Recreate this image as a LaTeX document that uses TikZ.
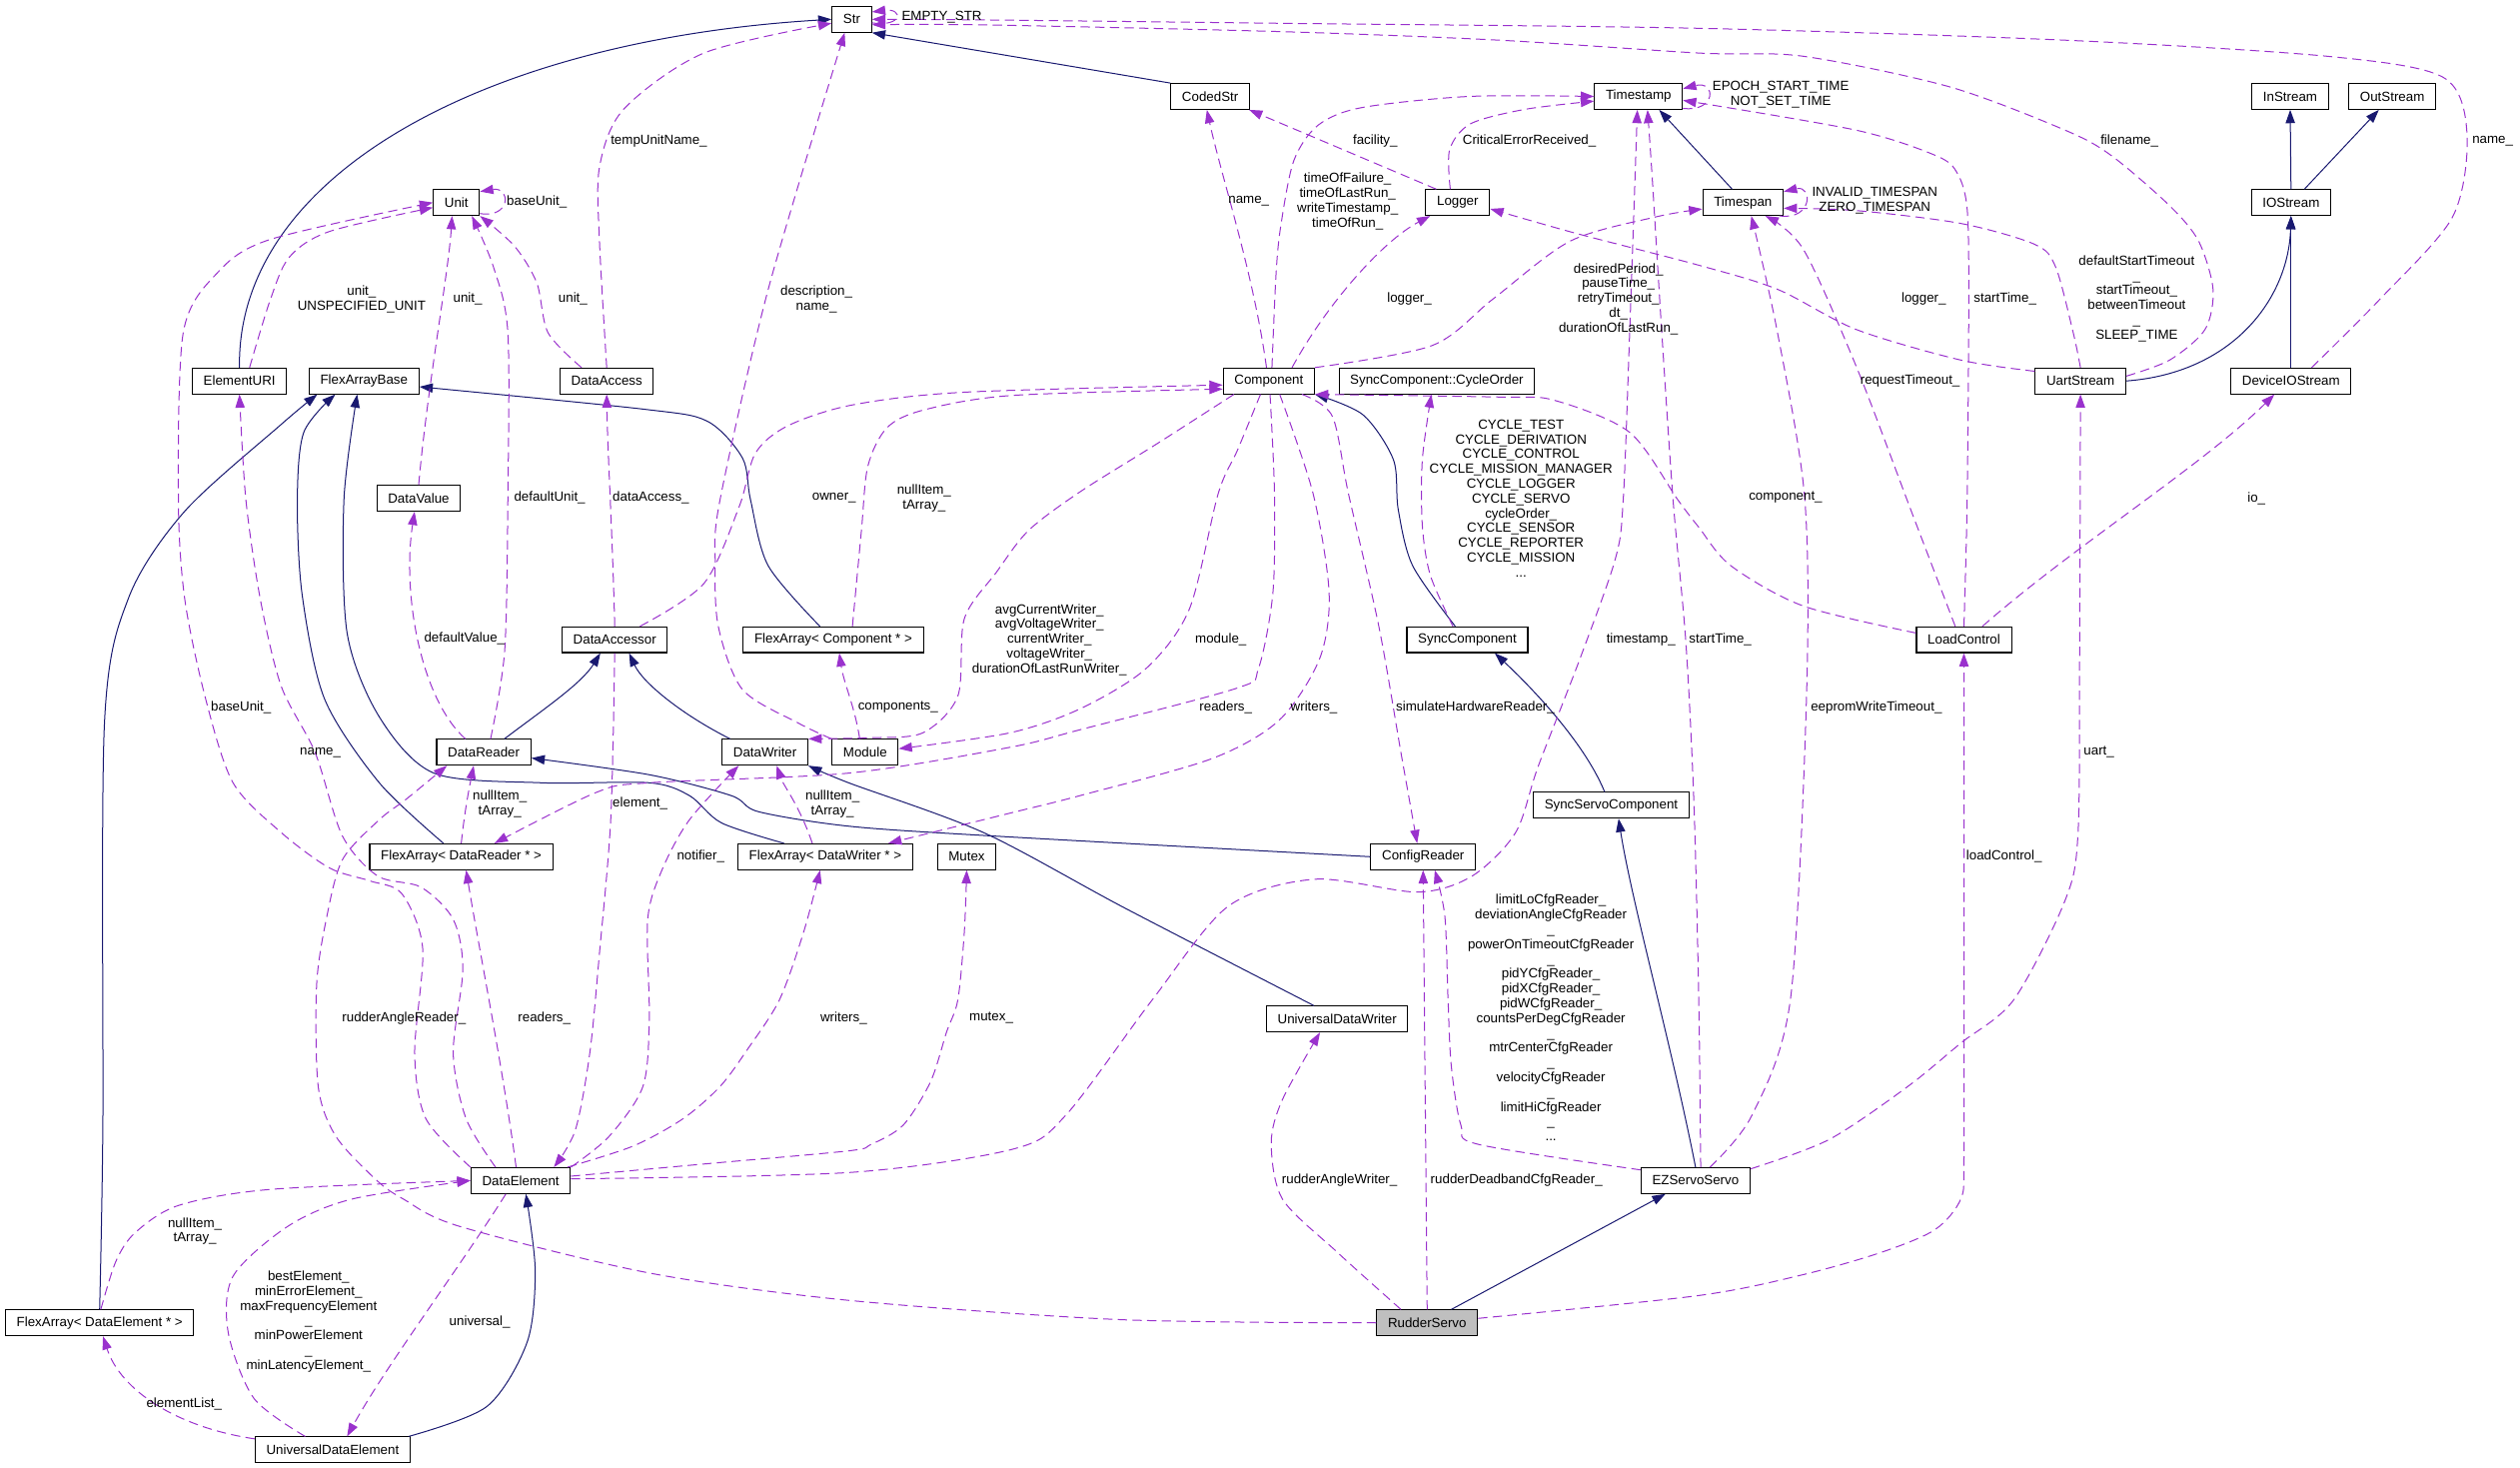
\documentclass[tikz,border=0pt]{standalone}
\usepackage{fontspec}
\setmainfont{Liberation Sans}
\usepackage{xcolor}
\usepackage{tikz}
\definecolor{inhcolor}{RGB}{25, 25, 112}
\definecolor{usecolor}{RGB}{154, 50, 205}
\usetikzlibrary{arrows.meta}

\begin{document}
\begin{tikzpicture}[
    x=1.2063pt, y=-1.2063pt,
    cls/.style={rectangle, draw, line width=0.8pt, fill=white, minimum height=19.3pt, inner xsep=8.4pt, inner ysep=0pt, font=\fontsize{10}{11.1}\selectfont},
    mainclass/.style={cls, fill=black!25},
    inherit/.style={draw=inhcolor, line width=0.75pt, -{Triangle[length=10pt, width=7pt]}},
    member/.style={draw=usecolor, line width=0.75pt, dash pattern=on 7pt off 4pt, -{Triangle[length=10pt, width=7pt]}},
    lbl/.style={font=\fontsize{10}{11.1}\selectfont, align=center, inner sep=0pt}
]
    \useasboundingbox (0,0) rectangle (1568,913);

    % Classes
    \node[cls] (str) at (530,12) {Str};
    \node[cls] (codedstr) at (753,60) {CodedStr};
    \node[cls] (timestamp) at (1019.5,60) {Timestamp};
    \node[cls] (instream) at (1425,60) {InStream};
    \node[cls] (outstream) at (1488.5,60) {OutStream};
    \node[cls] (unit) at (284,126) {Unit};
    \node[cls] (logger) at (907,126) {Logger};
    \node[cls] (timespan) at (1084.5,126) {Timespan};
    \node[cls] (iostream) at (1425.5,126) {IOStream};
    \node[cls] (elementuri) at (149,237) {ElementURI};
    \node[cls] (flexbase) at (226.5,237) {FlexArrayBase};
    \node[cls] (dataaccess) at (377.5,237) {DataAccess};
    \node[cls] (component) at (789.5,237) {Component};
    \node[cls] (cycleorder) at (894,237) {SyncComponent::CycleOrder};
    \node[cls] (uartstream) at (1294.5,237) {UartStream};
    \node[cls] (deviceio) at (1425.5,237) {DeviceIOStream};
    \node[cls] (datavalue) at (260.5,310) {DataValue};
    \node[cls] (dataaccessor) at (382.5,398) {DataAccessor};
    \node[cls] (flexcomp) at (518.5,398) {FlexArray< Component * >};
    \node[cls] (synccomp) at (913,398) {SyncComponent};
    \node[cls] (loadcontrol) at (1222,398) {LoadControl};
    \node[cls] (datareader) at (301,468) {DataReader};
    \node[cls] (datawriter) at (476,468) {DataWriter};
    \node[cls] (module) at (538.3,468) {Module};
    \node[cls] (flexreader) at (287,533) {FlexArray< DataReader * >};
    \node[cls] (flexwriter) at (513.5,533) {FlexArray< DataWriter * >};
    \node[cls] (mutex) at (601.5,533) {Mutex};
    \node[cls] (configreader) at (885.5,533) {ConfigReader};
    \node[cls] (syncservo) at (1002.5,501) {SyncServoComponent};
    \node[cls] (udwriter) at (832,634) {UniversalDataWriter};
    \node[cls] (dataelement) at (324,734.5) {DataElement};
    \node[cls] (ezservo) at (1055,734.5) {EZServoServo};
    \node[cls] (flexelement) at (62,823) {FlexArray< DataElement * >};
    \node[mainclass] (rudderservo) at (888,823) {RudderServo};
    \node[cls] (udelement) at (207,902) {UniversalDataElement};

    % Inheritance
    \draw[inherit] (elementuri.north) .. controls (147,110) and (300,25) .. (str.west);
    \draw[inherit] (codedstr.north west) -- (str.south east);
    \draw[inherit] (timespan.129) -- (timestamp.327);
    \draw[inherit] (iostream.north) -- (instream.south);
    \draw[inherit] (iostream.45) -- (outstream.225);
    \draw[inherit] (uartstream.east) .. controls (1390,232) and (1424,185) .. (iostream.south);
    \draw[inherit] (deviceio.north) -- (iostream.south);
    \draw[inherit] plot[smooth] coordinates {(flexcomp.135) (478,352) (467,311) (462,285) (440,262) (400,254.5) (flexbase.354)};
    \draw[inherit] plot[smooth] coordinates {(flexreader.143) (236,487) (202,435) (188,370) (185,311) (189,269) (flexbase.205)};
    \draw[inherit] plot[smooth] coordinates {(flexwriter.162) (449,512) (429,495) (404,487) (337,487) (270,481) (236,446) (216,394) (214,311) (flexbase.243)};
    \draw[inherit] plot[smooth] coordinates {(flexelement.north) (64,700) (65,450) (80,372) (115,318) (175,264) (flexbase.196)};
    \draw[inherit] (datareader.33) .. controls (340,440) and (362,425) .. (dataaccessor.223);
    \draw[inherit] (datawriter.159) .. controls (425,445) and (400,425) .. (dataaccessor.317);
    \draw[inherit] plot[smooth] coordinates {(configreader.west) (616,520) (528,514) (472,505) (455,495) (404,482) (datareader.353)};
    \draw[inherit] plot[smooth] coordinates {(udwriter.150) (700,565) (612,518) (528,487) (datawriter.south east)};
    \draw[inherit] plot[smooth] coordinates {(synccomp.132) (879,352) (870,317) (867,286) (848,258) (component.south east)};
    \draw[inherit] (syncservo.116) .. controls (985,460) and (950,425) .. (synccomp.334);
    \draw[inherit] (ezservo.north) .. controls (1040,650) and (1015,560) .. (syncservo.299);
    \draw[inherit] (rudderservo.29) -- (ezservo.204);
    \draw[inherit] plot[smooth] coordinates {(udelement.10) (303,875) (328,835) (333,790) (dataelement.291)};

    % Members
    \draw[member] (str.350) .. controls (562,17) and (562,5) .. (str.20);
    \draw[member] (timestamp.345) .. controls (1068,70) and (1068,50) .. (timestamp.10);
    \draw[member] (timespan.340) .. controls (1128,137) and (1128,115) .. (timespan.15);
    \draw[member] (unit.335) .. controls (318,136) and (318,116) .. (unit.25);
    \draw[member] plot[smooth] coordinates {(elementuri.53) (168,187) (180,160) (205,144) (unit.192)};
    \draw[member] plot[smooth] coordinates {(dataelement.north west) (265,696) (258,655) (263,590) (250,556) (230,548) (205,540) (175,518) (145,487) (128,435) (115,373) (111,311) (114,207) (135,170) (168,149) (unit.west)};
    \draw[member] plot[smooth] coordinates {(dataelement.152) (290,696) (282,655) (288,603) (282,572) (262,552) (235,545) (213,520) (196,468) (175,427) (162,373) (153,311) (elementuri.south)};
    \draw[member] (datavalue.north) .. controls (266,240) and (279,170) .. (unit.252);
    \draw[member] plot[smooth] coordinates {(datareader.63) (314,405) (316,311) (316,207) (307,166) (unit.319)};
    \draw[member] plot[smooth] coordinates {(dataaccess.152) (341,207) (334,176) (320,153) (unit.south east)};
    \draw[member] plot[smooth] coordinates {(dataaccess.north) (373,150) (373,104) (388,68) (438,33) (str.191)};
    \draw[member] (dataaccessor.north) .. controls (381,330) and (378,280) .. (dataaccess.south);
    \draw[member] plot[smooth] coordinates {(dataaccessor.28) (438,363) (460,315) (470,282) (490,265) (530,252) (600,244) (component.185)};
    \draw[member] (datareader.144) .. controls (262,435) and (250,370) .. (datavalue.253);
    \draw[member] plot[smooth] coordinates {(flexcomp.35) (536,330) (540,290) (552,266) (575,255) (630,246) (component.190)};
    \draw[member] (module.112) .. controls (532,440) and (525,425) .. (flexcomp.294);
    \draw[member] plot[smooth] coordinates {(module.north west) (497,450) (462,429) (447,390) (445,350) (448,311) (478,180) (str.242)};
    \draw[member] plot[smooth] coordinates {(component.238) (770,280) (758,307) (740,379) (713,416) (672,441) (628,456) (module.6)};
    \draw[member] plot[smooth] coordinates {(component.275) (793,307) (792,369) (783,416) (770,428) (672,454) (628,465) (528,481) (404,487) (371,493) (flexreader.22)};
    \draw[member] plot[smooth] coordinates {(component.309) (817,307) (827,369) (821,410) (796,448) (754,472) (672,495) (628,506) (flexwriter.12)};
    \draw[member] plot[smooth] coordinates {(component.201) (720,276) (672,306) (640,330) (620,356) (600,385) (596,433) (574,456) (540,459) (datawriter.north east)};
    \draw[member] (component.30) .. controls (825,190) and (860,150) .. (logger.206);
    \draw[member] plot[smooth] coordinates {(component.338) (829,259) (839,307) (858,390) (872,470) (configreader.114)};
    \draw[member] (component.100) .. controls (780,170) and (760,110) .. (codedstr.256);
    \draw[member] plot[smooth] coordinates {(component.77) (794,170) (797,140) (805,100) (820,78) (847,67) (914,60) (timestamp.west)};
    \draw[member] plot[smooth] coordinates {(component.north east) (891,215) (929,186) (977,150) (1030,135) (timespan.189)};
    \draw[member] (logger.148) -- (codedstr.341);
    \draw[member] plot[smooth] coordinates {(logger.119) (902,93) (915,77) (949,68) (timestamp.186)};
    \draw[member] plot[smooth] coordinates {(synccomp.137) (890,358) (885,327) (885,286) (cycleorder.248)};
    \draw[member] plot[smooth] coordinates {(loadcontrol.172) (1122,377) (1077,352) (1057,328) (1044,311) (1014,269) (967,249) (933,247) (component.south east)};
    \draw[member] plot[smooth] coordinates {(loadcontrol.123) (1190,320) (1155,228) (1122,155) (timespan.329)};
    \draw[member] plot[smooth] coordinates {(loadcontrol.north) (1224,311) (1225,186) (1224,130) (1218,108) (1205,97) (1155,81) (timestamp.355)};
    \draw[member] (loadcontrol.36) .. controls (1290,340) and (1370,290) .. (deviceio.219);
    \draw[member] plot[smooth] coordinates {(uartstream.north) (1290,207) (1279,166) (1266,152) (1220,139) (1155,131) (timespan.352)};
    \draw[member] plot[smooth] coordinates {(uartstream.168) (1220,224) (1155,205) (1106,180) (1057,165) (980,145) (logger.349)};
    \draw[member] plot[smooth] coordinates {(uartstream.6) (1350,224) (1372,205) (1377,180) (1368,150) (1350,128) (1314,97) (1285,81) (1213,54) (1122,35) (1057,33) (933,25) (798,19.7) (613,15.5) (str.345)};
    \draw[member] plot[smooth] coordinates {(deviceio.33) (1480,187) (1526,135) (1535,83) (1520,48) (1448,35) (1285,25) (1057,17.6) (798,14.5) (613,12.4) (str.east)};
    \draw[member] plot[smooth] coordinates {(ezservo.43) (1090,694) (1114,622) (1124,435) (1123,311) (1106,207) (timespan.302)};
    \draw[member] plot[smooth] coordinates {(ezservo.12) (1138,709) (1187,676) (1220,649) (1253,622) (1285,560) (1293,518) (1294,400) (uartstream.south)};
    \draw[member] plot[smooth] coordinates {(ezservo.69) (1057,622) (1054,500) (1049,400) (1041,311) (1034,207) (1028,110) (timestamp.304)};
    \draw[member] plot[smooth] coordinates {(ezservo.169) (920,712) (909,700) (903,663) (901,622) (899,570) (configreader.311)};
    \draw[member] plot[smooth] coordinates {(rudderservo.153) (832,779) (798,746) (791,711) (798,684) (udwriter.218)};
    \draw[member] (rudderservo.north) -- (configreader.south);
    \draw[member] plot[smooth] coordinates {(rudderservo.5) (1057,806) (1122,793) (1171,779) (1204,765) (1220,746) (1222,720) (1222,600) (loadcontrol.south)};
    \draw[member] plot[smooth] coordinates {(rudderservo.west) (697,821) (528,809) (404,792) (286,763) (251,746) (234,734) (209,707) (198,676) (197,613) (203,572) (213,535) (236,510) (253,497) (datareader.200)};
    \draw[member] (dataelement.109) .. controls (313,665) and (298,590) .. (flexreader.290);
    \draw[member] plot[smooth] coordinates {(dataaccessor.south) (380,510) (373,593) (367,655) (358,703) (dataelement.22)};
    \draw[member] plot[smooth] coordinates {(dataelement.north east) (379,707) (400,676) (404,634) (403,572) (412,541) (429,510) (datawriter.207)};
    \draw[member] (flexwriter.134) .. controls (497,500) and (488,490) .. (datawriter.311);
    \draw[member] plot[smooth] coordinates {(dataelement.16) (394,713) (425,696) (448,676) (465,653) (485,622) (500,580) (flexwriter.249)};
    \draw[member] plot[smooth] coordinates {(dataelement.5) (440,724) (528,716) (542,712) (562,700) (579,673) (589,642) (596,622) (600,580) (mutex.south)};
    \draw[member] plot[smooth] coordinates {(dataelement.2) (528,729.5) (630,715) (663,694) (717,622) (764,564) (818,547) (882,555) (916,545) (943,518) (957,477) (983,410) (1005,348) (1010,311) (1014,207) (timestamp.265)};
    \draw[member] (flexreader.north) .. controls (289,505) and (292,490) .. (datareader.233);
    \draw[member] plot[smooth] coordinates {(flexelement.85) (72,785) (84,767) (111,750) (168,740) (dataelement.west)};
    \draw[member] plot[smooth] coordinates {(udelement.154) (158,870) (142,829) (145,794) (179,763) (219,746) (dataelement.west)};
    \draw[member] (dataelement.222) .. controls (285,790) and (240,850) .. (udelement.43);
    \draw[member] (udelement.172) .. controls (110,888) and (75,865) .. (flexelement.284);

    % Member names
    \node[lbl] (l-emptystr) at (586,10.4) {EMPTY\_STR};
    \node[lbl] (l-tempunit) at (410,87.5) {tempUnitName\_};
    \node[lbl] (l-unitbase) at (334,125.4) {baseUnit\_};
    \node[lbl] (l-uriunit) at (225,186) {unit\_\\UNSPECIFIED\_UNIT};
    \node[lbl] (l-valueunit) at (291,186) {unit\_};
    \node[lbl] (l-accessunit) at (356.5,186) {unit\_};
    \node[lbl] (l-modname) at (508,186) {description\_\\name\_};
    \node[lbl] (l-compname) at (777,125.4) {name\_};
    \node[lbl] (l-facility) at (855.7,87.5) {facility\_};
    \node[lbl] (l-critical) at (951.6,87.5) {CriticalErrorReceived\_};
    \node[lbl] (l-compstamps) at (838.5,125.3) {timeOfFailure\_\\timeOfLastRun\_\\writeTimestamp\_\\timeOfRun\_};
    \node[lbl] (l-complogger) at (877,186) {logger\_};
    \node[lbl] (l-compspans) at (1007,186) {desiredPeriod\_\\pauseTime\_\\retryTimeout\_\\dt\_\\durationOfLastRun\_};
    \node[lbl] (l-stampconst) at (1108,59) {EPOCH\_START\_TIME\\NOT\_SET\_TIME};
    \node[lbl] (l-filename) at (1325,87.5) {filename\_};
    \node[lbl] (l-ioname) at (1551,87.5) {name\_};
    \node[lbl] (l-spanconst) at (1166.5,125) {INVALID\_TIMESPAN\\ZERO\_TIMESPAN};
    \node[lbl] (l-uartlogger) at (1197,186) {logger\_};
    \node[lbl] (l-loadstart) at (1247.6,186) {startTime\_};
    \node[lbl] (l-uartspans) at (1329.5,185.8) {defaultStartTimeout\\\_\\startTimeout\_\\betweenTimeout\\\_\\SLEEP\_TIME};
    \node[lbl] (l-request) at (1188.5,236.7) {requestTimeout\_};
    \node[lbl] (l-loadcomp) at (1111,309.5) {component\_};
    \node[lbl] (l-io) at (1404,310) {io\_};
    \node[lbl] (l-defunit) at (342,309.5) {defaultUnit\_};
    \node[lbl] (l-dataaccess) at (405,309.5) {dataAccess\_};
    \node[lbl] (l-owner) at (519,309.5) {owner\_};
    \node[lbl] (l-compitems) at (575,310) {nullItem\_\\tArray\_};
    \node[lbl] (l-cycles) at (946.4,310) {CYCLE\_TEST\\CYCLE\_DERIVATION\\CYCLE\_CONTROL\\CYCLE\_MISSION\_MANAGER\\CYCLE\_LOGGER\\CYCLE\_SERVO\\cycleOrder\_\\CYCLE\_SENSOR\\CYCLE\_REPORTER\\CYCLE\_MISSION\\...};
    \node[lbl] (l-defvalue) at (289,397.5) {defaultValue\_};
    \node[lbl] (l-compwriters) at (653,398) {avgCurrentWriter\_\\avgVoltageWriter\_\\currentWriter\_\\voltageWriter\_\\durationOfLastRunWriter\_};
    \node[lbl] (l-module) at (759.6,398) {module\_};
    \node[lbl] (l-timestamp) at (1021,398) {timestamp\_};
    \node[lbl] (l-servostart) at (1070.4,398) {startTime\_};
    \node[lbl] (l-eeprom) at (1167.5,440) {eepromWriteTimeout\_};
    \node[lbl] (l-elembase) at (150,440) {baseUnit\_};
    \node[lbl] (l-elemname) at (199.3,468.4) {name\_};
    \node[lbl] (l-components) at (558.8,440) {components\_};
    \node[lbl] (l-compreaders) at (762.7,440.4) {readers\_};
    \node[lbl] (l-compwriterlist) at (817.6,440.4) {writers\_};
    \node[lbl] (l-simulate) at (918,440) {simulateHardwareReader\_};
    \node[lbl] (l-readeritems) at (311,500) {nullItem\_\\tArray\_};
    \node[lbl] (l-element) at (398.3,500) {element\_};
    \node[lbl] (l-writeritems) at (518,500) {nullItem\_\\tArray\_};
    \node[lbl] (l-uart) at (1306,468) {uart\_};
    \node[lbl] (l-notifier) at (436,532.7) {notifier\_};
    \node[lbl] (l-loadcontrol) at (1247,532.7) {loadControl\_};
    \node[lbl] (l-cfgreaders) at (965,633.2) {limitLoCfgReader\_\\deviationAngleCfgReader\\\_\\powerOnTimeoutCfgReader\\\_\\pidYCfgReader\_\\pidXCfgReader\_\\pidWCfgReader\_\\countsPerDegCfgReader\\\_\\mtrCenterCfgReader\\\_\\velocityCfgReader\\\_\\limitHiCfgReader\\\_\\...};
    \node[lbl] (l-angleread) at (251.4,633.5) {rudderAngleReader\_};
    \node[lbl] (l-elemreaders) at (338.7,633.5) {readers\_};
    \node[lbl] (l-elemwriters) at (525,633.5) {writers\_};
    \node[lbl] (l-mutex) at (616.8,633.5) {mutex\_};
    \node[lbl] (l-anglewrite) at (833.5,734.2) {rudderAngleWriter\_};
    \node[lbl] (l-deadband) at (943.6,734.2) {rudderDeadbandCfgReader\_};
    \node[lbl] (l-elemitems) at (121.3,766) {nullItem\_\\tArray\_};
    \node[lbl] (l-best) at (192,822.2) {bestElement\_\\minErrorElement\_\\maxFrequencyElement\\\_\\minPowerElement\\\_\\minLatencyElement\_};
    \node[lbl] (l-universal) at (298.5,822.3) {universal\_};
    \node[lbl] (l-elemlist) at (114.6,873.5) {elementList\_};
\end{tikzpicture}
\end{document}
